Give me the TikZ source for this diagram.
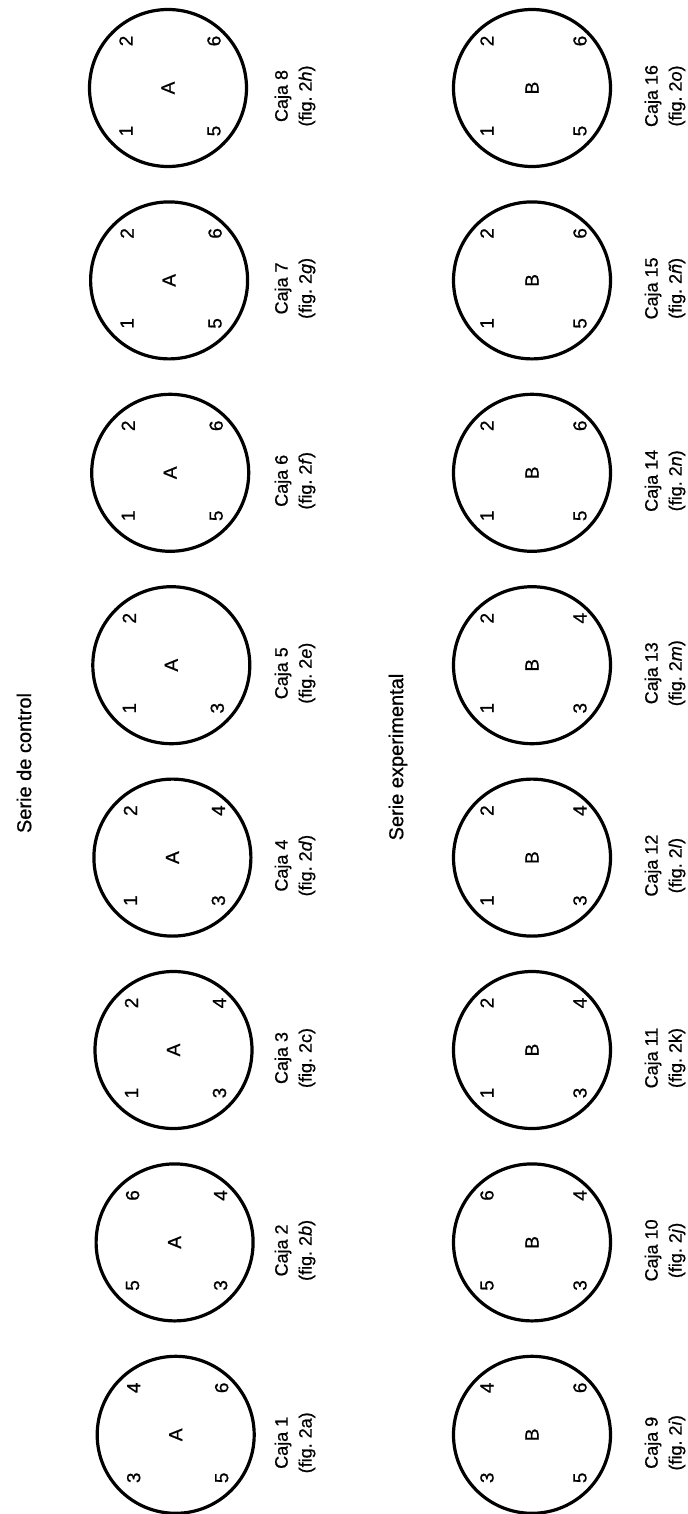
\documentclass[tikz,border=0pt]{standalone}
\usepackage{fontspec}
\setmainfont{Liberation Sans}[FakeBold=0.7]
\usetikzlibrary{math}

\tikzset{
  caja/.style={circle, draw, line width=1.6pt, minimum size=78.5pt, inner sep=0pt, rotate=90, font=\fontsize{9.5}{11}\selectfont},
  numtxt/.style={rotate=90, inner sep=0pt, font=\fontsize{9.5}{11}\selectfont},
  rotulo/.style={rotate=90, align=center, inner sep=0pt, font=\fontsize{9}{12}\selectfont},
  serie/.style={rotate=90, inner sep=0pt, font=\fontsize{10}{12}\selectfont},
}

\begin{document}
\begin{tikzpicture}[x=0.5pt, y=-0.5pt]
\tikzmath{
\dy=192.4;
\ya=88;
\xa=168;
\xb=532;
\la=295;
\lb=665;
}
\useasboundingbox (0,0) rectangle (687,1514);

\node[serie] (ctrl) at (24,763) {Serie de control};
\node[serie] (expt) at (398,757) {Serie experimental};

% serie de control
\foreach \k/\ia/\ib/\ic/\id/\fg in {1/4/3/6/5/a, 2/6/5/4/3/\textit{b}, 3/2/1/4/3/c, 4/2/1/4/3/\textit{d},
  5/2/1//3/\textit{e}, 6/2/1/6/5/\textit{f}, 7/2/1/6/5/\textit{g}, 8/2/1/6/5/\textit{h}}{
  \tikzmath{\yc=\ya+(8-\k)*\dy; \xc=\xa+(8-\k)*1.1;}
  \node[caja] (c\k) at (\xc,\yc) {A};
  \node[numtxt] (n\k-a) at ([shift={(-42,-47)}]c\k) {\ia};
  \node[numtxt] (n\k-b) at ([shift={(-42,43)}]c\k) {\ib};
  \if\relax\detokenize\expandafter{\ic}\relax\else
    \node[numtxt] (n\k-c) at ([shift={(46,-47)}]c\k) {\ic};
  \fi
  \node[numtxt] (n\k-d) at ([shift={(46,43)}]c\k) {\id};
  \node[rotulo] (l\k) at (\la,\yc+8) {Caja \k\\(fig.~2\fg)};
}

% serie experimental
\foreach \k/\ia/\ib/\ic/\id/\fg in {9/4/3/6/5/\textit{i}, 10/6/5/4/3/\textit{j}, 11/2/1/4/3/k, 12/2/1/4/3/\textit{l},
  13/2/1/4/3/\textit{m}, 14/2/1/6/5/\textit{n}, 15/2/1/6/5/\textit{ñ}, 16/2/1/6/5/\textit{o}}{
  \tikzmath{\yc=\ya+(16-\k)*\dy;}
  \node[caja] (c\k) at (\xb,\yc) {B};
  \node[numtxt] (n\k-a) at ([shift={(-45,-47)}]c\k) {\ia};
  \node[numtxt] (n\k-b) at ([shift={(-45,43)}]c\k) {\ib};
  \node[numtxt] (n\k-c) at ([shift={(48,-47)}]c\k) {\ic};
  \node[numtxt] (n\k-d) at ([shift={(48,43)}]c\k) {\id};
  \node[rotulo] (l\k) at (\lb,\yc+8) {Caja \k\\(fig.~2\fg)};
}
\end{tikzpicture}
\end{document}
